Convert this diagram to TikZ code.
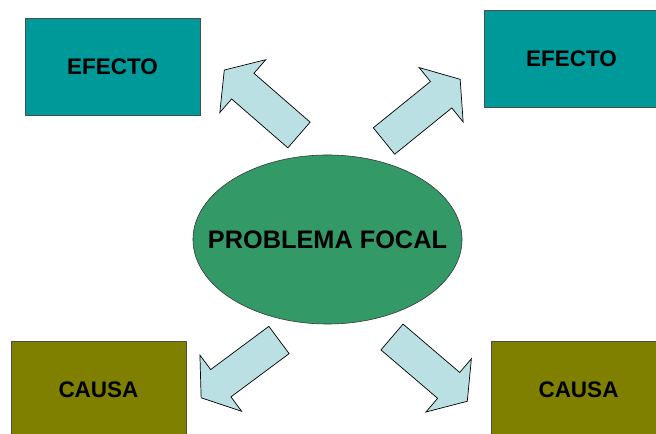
\documentclass[tikz,border=0pt]{standalone}
\usepackage{fontspec}
\setmainfont{Liberation Sans}
\usetikzlibrary{shapes.geometric}
\definecolor{efecto}{HTML}{009999}
\definecolor{causa}{HTML}{808000}
\definecolor{focal}{HTML}{339966}
\definecolor{flecha}{HTML}{BBE0E3}
\tikzset{efbox/.style = {draw=black!70, fill=efecto, minimum width=4.375cm, minimum height=2.425cm,
                         font=\fontsize{16}{18}\selectfont\bfseries}}
\tikzset{cabox/.style = {draw=black!70, fill=causa, minimum width=4.375cm, minimum height=2.45cm,
                         font=\fontsize{16}{18}\selectfont\bfseries}}
\tikzset{flechabox/.style = {draw=black, fill=flecha, line width=0.5pt, line join=miter}}
% block arrow: tail centre, angle, length
\newcommand{\bloque}[3]{\draw [flechabox, shift={(#1)}, rotate=#2]
  (0,-17) -- (#3-24.5,-17) -- (#3-24.5,-35) -- (#3,0) -- (#3-24.5,35)
  -- (#3-24.5,17) -- (0,17) -- cycle;}

\begin{document}
\begin{tikzpicture}[x=0.025cm, y=0.025cm]
      \useasboundingbox (0,0) rectangle (656,433);
      \begin{scope}
      \clip (0,0) rectangle (656,433);
      \node [efbox] (efecto1) at (112.5,366.5) {EFECTO};
      \node [efbox] (efecto2) at (571.5,374.5) {EFECTO};
      \node [cabox] (causa1) at (98.5,43) {CAUSA};
      \node [cabox] (causa2) at (578.5,43) {CAUSA};
      \node [draw=black!80, fill=focal, ellipse, minimum width=6.725cm, minimum height=4.225cm,
             inner sep=0, font=\fontsize{18}{20}\selectfont\bfseries] (focal) at (327.5,193.5)
             {\makebox[0pt]{PROBLEMA FOCAL}};
      \end{scope}
      \bloque{299,298}{139}{99}
      \bloque{384,292}{39}{98}
      \bloque{279,93}{216.6}{97}
      \bloque{392,96}{-40.5}{99}
    \end{tikzpicture}
\end{document}
